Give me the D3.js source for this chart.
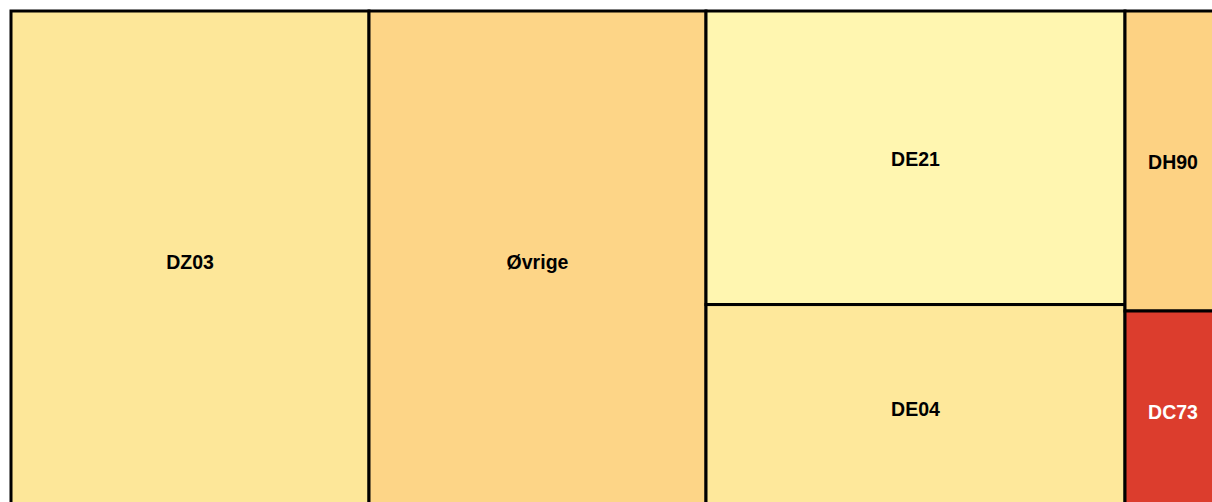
<!DOCTYPE html>
<html>
<head>
<meta charset="utf-8">
<script src="https://cdn.jsdelivr.net/npm/d3@7"></script>
<style>
  html, body { margin: 0; padding: 0; background: #ffffff; }
  svg { display: block; }
</style>
</head>
<body>
<svg id="chart" width="1212" height="502"></svg>
<script>
const categories = ["DZ03", "Øvrige", "DE21", "DE04", "DH90", "DC73"];
const values = [179.0, 168.5, 123.0, 86.5, 28.8, 19.2];
const fillColors = ["#fde799", "#fdd587", "#fff6b0", "#fee89b", "#fdd283", "#dc3d2d"];
const labelColors = ["#000000", "#000000", "#000000", "#000000", "#000000", "#ffffff"];

const svg = d3.select("#chart");
const width = 1210, height = 500, x0 = 11, y0 = 11;

const data = {
  name: "root",
  children: categories.map((c, i) => ({ name: c, value: values[i], fill: fillColors[i], label: labelColors[i] }))
};

const root = d3.hierarchy(data).sum(d => d.value || 0).sort((a, b) => b.value - a.value);
d3.treemap().tile(d3.treemapSquarify.ratio(1)).size([width, height]).round(false)(root);

const g = svg.append("g").attr("transform", `translate(${x0},${y0})`);

const cells = g.selectAll("g.cell").data(root.leaves()).enter().append("g").attr("class", "cell");

cells.append("rect")
  .attr("x", d => d.x0)
  .attr("y", d => d.y0)
  .attr("width", d => d.x1 - d.x0)
  .attr("height", d => d.y1 - d.y0)
  .attr("fill", d => d.data.fill)
  .attr("stroke", "#000")
  .attr("stroke-width", 3);

cells.append("text")
  .attr("x", d => (d.x0 + d.x1) / 2)
  .attr("y", d => (d.y0 + d.y1) / 2 + 1)
  .attr("text-anchor", "middle")
  .attr("dominant-baseline", "central")
  .attr("font-family", "Liberation Sans, Arial, sans-serif")
  .attr("font-weight", "bold")
  .attr("font-size", 19.5)
  .attr("fill", d => d.data.label)
  .text(d => d.data.name);
</script>
</body>
</html>
